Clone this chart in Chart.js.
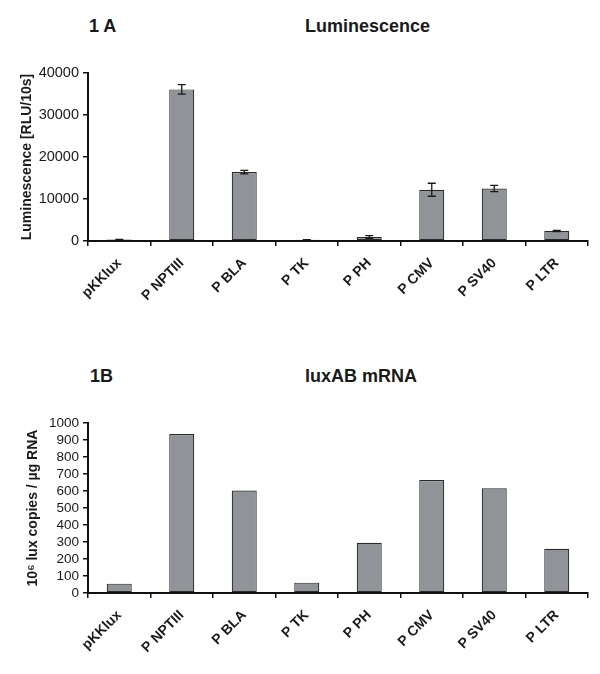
<!DOCTYPE html>
<html>
<head>
<meta charset="utf-8">
<script src="https://cdn.jsdelivr.net/npm/chart.js@4.4.1/dist/chart.umd.min.js"></script>
<style>
  html, body { margin: 0; padding: 0; background: #fff; width: 600px; height: 674px; overflow: hidden; }
  #wrap { position: relative; width: 600px; height: 674px; }
  canvas { position: absolute; left: 0; }
  .hd { position: absolute; font: bold 18px "Liberation Sans", Arial, sans-serif; line-height: 18px; color: #1a1a1a; white-space: nowrap; }
</style>
</head>
<body>
<div id="wrap">
  <div class="hd" style="left:89px; top:17px;">1 A</div>
  <div class="hd" style="left:305px; top:17px;">Luminescence</div>
  <div class="hd" style="left:90px; top:367px;">1B</div>
  <div class="hd" style="left:305px; top:367px;">luxAB mRNA</div>
  <canvas id="c1" width="600" height="320" style="top:0px"></canvas>
  <canvas id="c2" width="600" height="334" style="top:340px"></canvas>
</div>
<script>
const categories = ["pKKlux", "P NPTIII", "P BLA", "P TK", "P PH", "P CMV", "P SV40", "P LTR"];
const luminescence = [350, 36100, 16400, 300, 950, 12200, 12500, 2400];
const luminescenceErr = [60, 1150, 400, 50, 320, 1550, 750, 150];
const mrnaCopies = [55, 935, 603, 61, 295, 665, 616, 260];
const lumTicks = [0, 10000, 20000, 30000, 40000];
const mrnaTicks = [0, 100, 200, 300, 400, 500, 600, 700, 800, 900, 1000];

const FONT = '"Liberation Sans", Arial, sans-serif';
const BAR_FILL = '#909398';
const BAR_EDGE = '#2a2a2a';

const errorBarPlugin = {
  id: 'errorBars',
  afterDatasetsDraw(chart, args, opts) {
    if (!opts || !opts.errors) return;
    const ctx = chart.ctx;
    const meta = chart.getDatasetMeta(0);
    const ys = chart.scales.y;
    const vals = chart.data.datasets[0].data;
    ctx.save();
    ctx.strokeStyle = '#1a1a1a';
    ctx.lineWidth = 1.3;
    meta.data.forEach((bar, i) => {
      const e = opts.errors[i];
      if (!e) return;
      const x = bar.x;
      const yTop = ys.getPixelForValue(vals[i] + e);
      const yBot = ys.getPixelForValue(vals[i] - e);
      ctx.beginPath();
      ctx.moveTo(x, yTop); ctx.lineTo(x, yBot);
      ctx.moveTo(x - 4, yTop); ctx.lineTo(x + 4, yTop);
      ctx.moveTo(x - 4, yBot); ctx.lineTo(x + 4, yBot);
      ctx.stroke();
    });
    ctx.restore();
  }
};

function makeChart(id, values, ticksArr, yTitle, errors, cfg) {
  const maxV = ticksArr[ticksArr.length - 1];
  const step = ticksArr[1] - ticksArr[0];
  return new Chart(document.getElementById(id), {
    type: 'bar',
    data: {
      labels: categories,
      datasets: [{
        data: values,
        backgroundColor: BAR_FILL,
        borderColor: BAR_EDGE,
        borderWidth: 1.2,
        borderSkipped: false,
        barPercentage: 0.4,
        categoryPercentage: 1.0
      }]
    },
    plugins: [errorBarPlugin],
    options: {
      responsive: false,
      animation: false,
      devicePixelRatio: 1,
      layout: { padding: { top: cfg.padTop, right: 12, left: 0, bottom: 0 } },
      plugins: {
        legend: { display: false },
        tooltip: { enabled: false },
        errorBars: { errors: errors }
      },
      scales: {
        x: {
          grid: { offset: true, drawOnChartArea: false, drawTicks: true, tickLength: 5, color: '#111', lineWidth: 1.5 },
          border: { display: true, color: '#111', width: 2 },
          ticks: {
            minRotation: 45, maxRotation: 45, autoSkip: false, padding: 9,
            color: '#1a1a1a', font: { family: FONT, size: 14, weight: 'bold' }
          },
          afterFit: s => { s.height = cfg.xHeight; }
        },
        y: {
          min: 0, max: maxV,
          afterBuildTicks: s => { s.ticks = ticksArr.map(v => ({ value: v })); },
          grid: { drawOnChartArea: false, drawTicks: true, tickLength: 5, color: '#111', lineWidth: 1.5 },
          border: { display: true, color: '#111', width: 2 },
          ticks: {
            autoSkip: false, padding: 4, color: '#1a1a1a',
            font: { family: FONT, size: cfg.tickSize },
            callback: v => String(v)
          },
          title: {
            display: true, text: yTitle, color: '#1a1a1a',
            font: { family: FONT, size: 14, weight: 'bold' },
            padding: { top: cfg.titlePad, bottom: 0 }
          },
          afterFit: s => { s.width = 88; }
        }
      }
    }
  });
}

makeChart('c1', luminescence, lumTicks, 'Luminescence [RLU/10s]', luminescenceErr,
  { padTop: 73, xHeight: 79, tickSize: 14.5, titlePad: 19 });
makeChart('c2', mrnaCopies, mrnaTicks, '10\u2076 lux copies / \u00b5g RNA', null,
  { padTop: 83, xHeight: 81, tickSize: 13.5, titlePad: 25 });
</script>
</body>
</html>
